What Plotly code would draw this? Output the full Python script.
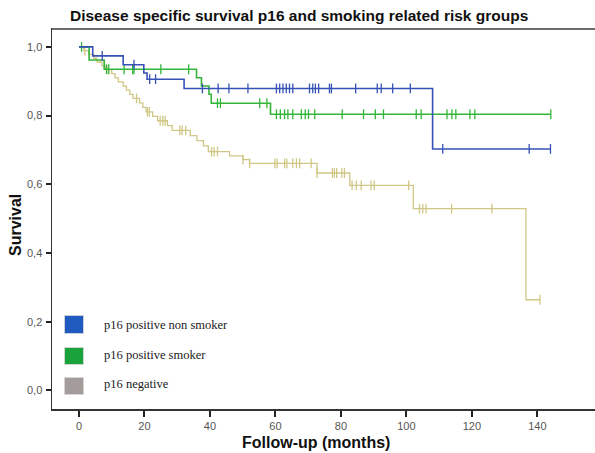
import numpy as np
import plotly.graph_objects as go

# ---------------- data ----------------
title_text = "Disease specific survival p16 and smoking related risk groups"
x_title = "Follow-up (months)"
y_title = "Survival"
x_tick_vals = [0, 20, 40, 60, 80, 100, 120, 140]
y_tick_vals = [0.0, 0.2, 0.4, 0.6, 0.8, 1.0]
y_tick_text = ["0,0", "0,2", "0,4", "0,6", "0,8", "1,0"]
group_names = ["p16 positive non smoker", "p16 positive smoker", "p16 negative"]

# p16 positive non smoker
blue_times = [0, 4.2, 13.5, 19.8, 20.8, 32.1, 108.0]
blue_surv = [1.0, 0.974, 0.948, 0.924, 0.906, 0.879, 0.703]
blue_end = 144.0
blue_censor = [7.1, 16.8, 21.6, 23.4, 37.7, 42.5, 45.8, 51.6, 60.3, 61.3, 62.3,
               63.3, 64.3, 65.3, 70.4, 71.4, 72.2, 73.2, 76.5, 77.1, 84.5, 91.1,
               92.3, 95.8, 101.2, 111.1, 137.5, 144.0]

# p16 positive smoker
green_times = [0, 3.1, 7.7, 35.9, 37.4, 39.7, 40.4, 58.5]
green_surv = [1.0, 0.962, 0.935, 0.910, 0.886, 0.862, 0.836, 0.804]
green_end = 144.1
green_censor = [0.8, 8.4, 9.1, 13.8, 16.4, 16.8, 25.0, 33.5, 42.3, 43.2, 55.2,
                57.4, 60.3, 61.5, 62.8, 63.8, 65.3, 67.9, 69.1, 70.1, 72.0, 80.4,
                86.9, 90.5, 93.0, 103.0, 104.5, 112.4, 113.9, 115.1, 119.4,
                120.9, 144.1]

# p16 negative
beige_times = [0, 1.5, 3.0, 4.5, 5.5, 7.0, 8.0, 10.0, 11.0, 12.0, 13.5, 14.5,
               15.5, 16.5, 18.5, 19.5, 20.5, 22.5, 24.0, 27.0, 28.5, 34.0, 36.0,
               38.0, 39.5, 46.0, 50.1, 52.1, 72.7, 82.7, 102.1, 136.5]
beige_surv = [1.0, 0.989, 0.978, 0.967, 0.956, 0.945, 0.934, 0.922, 0.910,
              0.898, 0.886, 0.874, 0.862, 0.850, 0.837, 0.824, 0.811, 0.798,
              0.785, 0.771, 0.757, 0.742, 0.727, 0.712, 0.695, 0.683, 0.672,
              0.661, 0.633, 0.597, 0.529, 0.264]
beige_end = 140.8
beige_censor = [1.8, 8.9, 17.6, 20.9, 21.5, 24.8, 25.6, 26.3, 30.8, 31.5, 32.6,
                40.5, 41.3, 42.3, 50.1, 52.1, 59.8, 60.5, 62.8, 63.5, 65.3,
                66.4, 67.4, 70.9, 72.7, 77.4, 78.0, 78.7, 80.3, 81.1, 83.4, 84.7,
                86.2, 89.2, 90.2, 100.7, 104.0, 105.0, 106.0, 113.8, 126.1,
                140.8]

line_colors = ["#3652b4", "#33b53a", "#d0c786"]
legend_colors = ["#1f5bbf", "#1aa33c", "#a39c9a"]

# ---------------- layout geometry (pixels) ----------------
W, H = 595, 453
L, R, T, B = 52, 595, 28, 409


def px(xp):
    return (xp - L) / (R - L)


def py(yp):
    return (B - yp) / (B - T)


fig = go.Figure()

series = [
    (blue_times, blue_surv, blue_end, blue_censor, 1.6),
    (green_times, green_surv, green_end, green_censor, 1.6),
    (beige_times, beige_surv, beige_end, beige_censor, 1.3),
]

# draw beige first so blue/green are on top
for idx in [2, 1, 0]:
    times, surv, end, cens, lw = series[idx]
    xs = list(times) + [end]
    ys = list(surv) + [surv[-1]]
    fig.add_trace(go.Scatter(
        x=xs, y=ys, mode="lines", line=dict(color=line_colors[idx], width=lw, shape="hv"),
        name=group_names[idx], showlegend=False, hoverinfo="skip"))
    t_arr = np.array(times)
    s_arr = np.array(surv)
    c_arr = np.array(cens)
    pos = np.searchsorted(t_arr, c_arr, side="right") - 1
    cy = s_arr[pos]
    fig.add_trace(go.Scatter(
        x=c_arr, y=cy, mode="markers",
        marker=dict(symbol="line-ns", size=7,
                    line=dict(color=line_colors[idx], width=1.3)),
        showlegend=False, hoverinfo="skip"))

# legend drawn as squares + serif labels
shapes = []
annotations = []
legend_rows = [(315.5, 333.5), (347.5, 364.5), (377.5, 394.5)]
text_y = [324.5, 354.5, 383.5]
for i, name in enumerate(group_names):
    y0, y1 = legend_rows[i]
    shapes.append(dict(type="rect", xref="paper", yref="paper",
                       x0=px(64.5), x1=px(83.5), y0=py(y1), y1=py(y0),
                       fillcolor=legend_colors[i], line=dict(color="#d8d8d8", width=0.8),
                       layer="above"))
    annotations.append(dict(text=name, xref="paper", yref="paper",
                            x=px(102), y=py(text_y[i]), xanchor="left", yanchor="middle",
                            showarrow=False,
                            font=dict(family="Liberation Serif", size=12.5, color="#1a1a1a")))

# top frame line
shapes.append(dict(type="line", xref="paper", yref="paper", x0=0, x1=1,
                   y0=py(29), y1=py(29),
                   line=dict(color="#3a3a3a", width=1.6), layer="above"))

annotations.append(dict(text="<b>" + title_text + "</b>", xref="paper", yref="paper",
                        x=px(299), y=py(15.5), xanchor="center", yanchor="middle",
                        showarrow=False,
                        font=dict(family="Liberation Sans", size=15.5, color="#111111")))
annotations.append(dict(text="<b>" + x_title + "</b>", xref="paper", yref="paper",
                        x=px(316), y=py(442), xanchor="center", yanchor="middle",
                        showarrow=False,
                        font=dict(family="Liberation Sans", size=16, color="#111111")))
annotations.append(dict(text="<b>" + y_title + "</b>", xref="paper", yref="paper",
                        x=px(15), y=py(225), xanchor="center", yanchor="middle",
                        textangle=-90, showarrow=False,
                        font=dict(family="Liberation Sans", size=16, color="#111111")))

x0_val = -8.24
x1_val = 157.6
y0_val = -0.054
y1_val = 1.055

fig.update_layout(
    width=W, height=H,
    margin=dict(l=L, r=W - R, t=T, b=H - B, pad=0),
    paper_bgcolor="white", plot_bgcolor="white",
    shapes=shapes, annotations=annotations,
    showlegend=False,
    xaxis=dict(range=[x0_val, x1_val], tickvals=x_tick_vals,
               ticks="outside", ticklen=6, tickwidth=2, tickcolor="#222",
               showline=True, linecolor="#333", linewidth=1.5,
               showgrid=False, zeroline=False,
               tickfont=dict(family="Liberation Sans", size=11, color="#555")),
    yaxis=dict(range=[y0_val, y1_val], tickvals=y_tick_vals, ticktext=y_tick_text,
               ticks="outside", ticklen=5, tickwidth=2, tickcolor="#222",
               showline=True, linecolor="#333", linewidth=1.5,
               showgrid=False, zeroline=False, ticklabelstandoff=1,
               tickfont=dict(family="Liberation Sans", size=11, color="#555")),
)

fig.write_html("out.html",
               config={"displayModeBar": False, "staticPlot": True},
               post_script="document.body.style.margin='0';document.body.style.overflow='hidden';")
